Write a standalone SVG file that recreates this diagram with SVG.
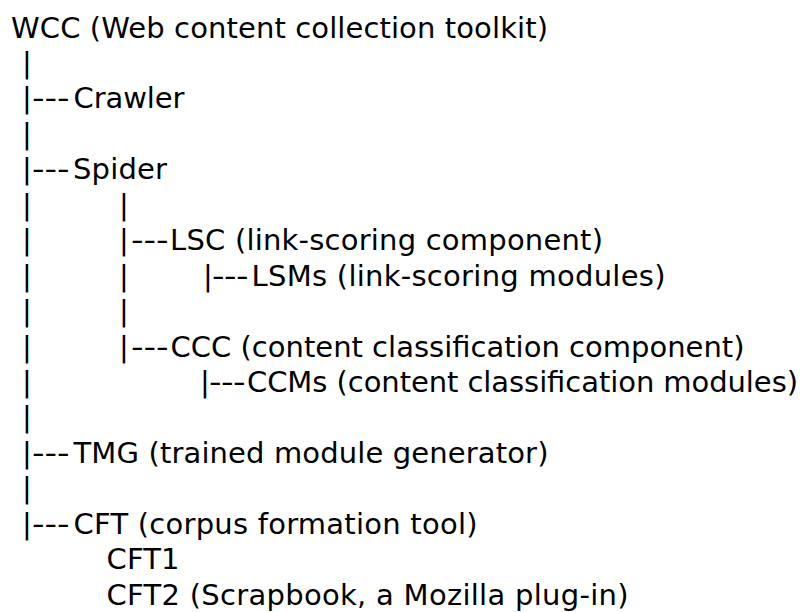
<svg xmlns="http://www.w3.org/2000/svg" width="812" height="612" viewBox="0 0 812 612">
<style>
text { font-family: "DejaVu Sans", Verdana, sans-serif; font-size: 29px; fill: #000; }
</style>
<rect width="812" height="612" fill="#fff"/>
<g id="connectors">
  <!-- vertical bars -->
  <text y="72.95"><tspan x="22.1">|</tspan></text>
  <text y="108.4"><tspan x="22.1">|</tspan></text>
  <text y="143.85"><tspan x="22.1">|</tspan></text>
  <text y="179.3"><tspan x="22.1">|</tspan></text>
  <text y="214.75"><tspan x="22.1">|</tspan><tspan x="119.1">|</tspan></text>
  <text y="250.2"><tspan x="22.1">|</tspan><tspan x="119.1">|</tspan></text>
  <text y="285.65"><tspan x="22.1">|</tspan><tspan x="119.1">|</tspan><tspan x="203.1">|</tspan></text>
  <text y="321.1"><tspan x="22.1">|</tspan><tspan x="119.1">|</tspan></text>
  <text y="356.55"><tspan x="22.1">|</tspan><tspan x="119.1">|</tspan></text>
  <text y="392"><tspan x="22.1">|</tspan><tspan x="200.1">|</tspan></text>
  <text y="427.45"><tspan x="22.1">|</tspan></text>
  <text y="462.9"><tspan x="22.1">|</tspan></text>
  <text y="498.35"><tspan x="22.1">|</tspan></text>
  <text y="533.8"><tspan x="22.1">|</tspan></text>
  <!-- dashes -->
  <text transform="translate(32 108.4) scale(1.2 1)" x="0 10.42 20.83">---</text>
  <text transform="translate(32 179.3) scale(1.2 1)" x="0 10.42 20.83">---</text>
  <text transform="translate(131 250.2) scale(1.2 1)" x="0 10.42 20.83">---</text>
  <text transform="translate(212 285.65) scale(1.2 1)" x="0 10 20">---</text>
  <text transform="translate(131 356.55) scale(1.2 1)" x="0 10.42 20.83">---</text>
  <text transform="translate(209 392) scale(1.2 1)" x="0 10 20">---</text>
  <text transform="translate(32 462.9) scale(1.2 1)" x="0 10.42 20.83">---</text>
  <text transform="translate(32 533.8) scale(1.2 1)" x="0 10.42 20.83">---</text>
</g>
<g id="wcc"><text x="11" y="37.5" textLength="537" lengthAdjust="spacing">WCC (Web content collection toolkit)</text></g>
<g id="crawler"><text x="73.5" y="108.4" textLength="111" lengthAdjust="spacing">Crawler</text></g>
<g id="spider"><text x="73" y="179.3" textLength="94" lengthAdjust="spacing">Spider</text></g>
<g id="lsc"><text x="170" y="250.2" textLength="433" lengthAdjust="spacing">LSC (link-scoring component)</text></g>
<g id="lsms"><text x="251.5" y="285.65" textLength="414" lengthAdjust="spacing">LSMs (link-scoring modules)</text></g>
<g id="ccc"><text x="170.5" y="356.55" textLength="574" lengthAdjust="spacing">CCC (content classification component)</text></g>
<g id="ccms"><text x="247" y="392" textLength="551" lengthAdjust="spacing">CCMs (content classification modules)</text></g>
<g id="tmg"><text x="73.5" y="462.9" textLength="475" lengthAdjust="spacing">TMG (trained module generator)</text></g>
<g id="cft"><text x="73.5" y="533.8" textLength="404" lengthAdjust="spacing">CFT (corpus formation tool)</text></g>
<g id="cft1"><text x="106.5" y="569.25" textLength="73" lengthAdjust="spacing">CFT1</text></g>
<g id="cft2"><text x="106.5" y="604.7" textLength="522" lengthAdjust="spacing">CFT2 (Scrapbook, a Mozilla plug-in)</text></g>
</svg>
